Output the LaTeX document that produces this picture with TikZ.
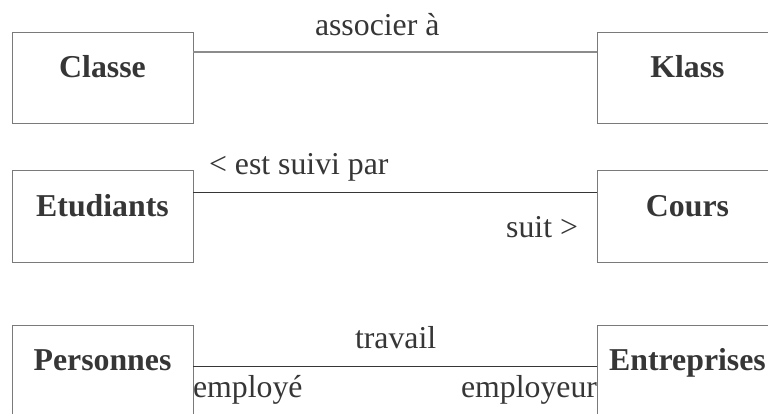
\documentclass[tikz,border=0pt]{standalone}
\usepackage{fontspec}
\setmainfont{Liberation Serif}
\begin{document}
\begin{tikzpicture}[x=1pt,y=-1pt,
  every node/.style={inner sep=0pt,outer sep=0pt,text=ink,font=\fontsize{31.8}{36}\selectfont},
  classbox/.style={draw=boxgray,line width=1pt,minimum width=181pt,minimum height=91pt,
    text height=21pt,text depth=22pt,font=\fontsize{31.8}{36}\selectfont\bfseries},
  assoc/.style={line width=1pt,draw=ink},
  lbl/.style={anchor=base west},
  lble/.style={anchor=base east}]
\definecolor{ink}{HTML}{363636}
\definecolor{boxgray}{HTML}{7A7A7A}
\definecolor{linegray}{HTML}{8C8C8C}
\useasboundingbox (0,0) rectangle (768,414);
\clip (0,0) rectangle (768,414);
\fill[white] (0,0) rectangle (768,414);

% classes
\node[classbox] (classe) at (102.5,78.5) {Classe};
\node[classbox] (klass) at (687.5,78.5) {Klass};
\node[classbox] (etud) at (102.5,216.5) {Etudiants};
\node[classbox] (cours) at (687.5,216.5) {Cours};
\node[classbox] (pers) at (102.5,370.5) {Personnes};
\node[classbox] (entr) at (687.5,370.5) {Entreprises};

% associations
\draw[assoc,draw=linegray,line width=1.3pt] ([yshift=-19pt]classe.north east) -- ([yshift=-19pt]klass.north west);
\draw[assoc] ([yshift=-22pt]etud.north east) -- ([yshift=-22pt]cours.north west);
\draw[assoc] ([yshift=-41pt]pers.north east) -- ([yshift=-41pt]entr.north west);

% association names and roles
\node[lbl] (tassoc) at (315,36) {associer à};
\node[lbl] (tsuivi) at (209,175) {< est suivi par};
\node[lble] (tsuit) at (578,237) {suit >};
\node[lbl] (ttrav) at (355,348) {travail};
\node[lbl] (temploye) at (193,397) {employé};
\node[lble] (temployeur) at (597,397) {employeur};
\end{tikzpicture}
\end{document}
